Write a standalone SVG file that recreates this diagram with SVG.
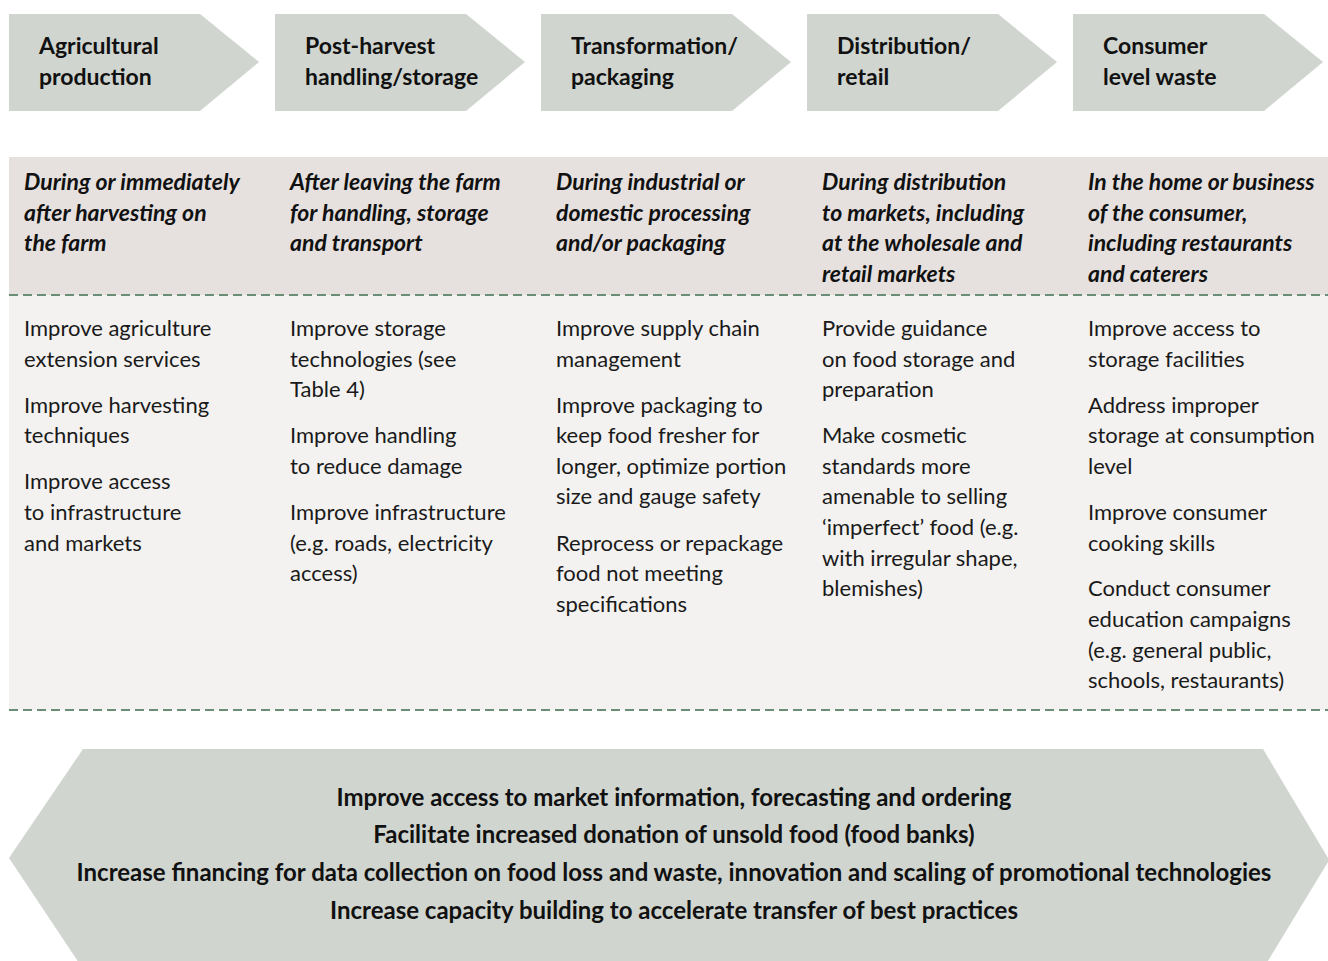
<svg xmlns="http://www.w3.org/2000/svg" width="1328" height="961" viewBox="0 0 1328 961">
<style>
.arrow{fill:#d0d5cf}
.hd{font-family:Lato,"Open Sans",sans-serif;font-weight:bold;font-size:23px;fill:#111}
.it{font-family:Lato,"Open Sans",sans-serif;font-weight:bold;font-style:italic;font-size:23px;fill:#111}
.bd{font-family:Lato,"Open Sans",sans-serif;font-size:22px;fill:#1a1a1a}
.bt{font-family:Lato,"Open Sans",sans-serif;font-weight:bold;font-size:24px;fill:#111;text-anchor:middle}
.dash{stroke:#6a8e75;stroke-width:2;stroke-dasharray:9 5;fill:none}
</style>
<rect x="0" y="0" width="1328" height="961" fill="#fff"/>
<g id="stage-1"><polygon class="arrow" points="9,14 200,14 259,62 200,111 9,111"/><text class="hd" x="39" y="54">Agricultural</text><text class="hd" x="39" y="85">production</text></g>
<g id="stage-2"><polygon class="arrow" points="275,14 466,14 525,62 466,111 275,111"/><text class="hd" x="305" y="54">Post-harvest</text><text class="hd" x="305" y="85">handling/storage</text></g>
<g id="stage-3"><polygon class="arrow" points="541,14 732,14 791,62 732,111 541,111"/><text class="hd" x="571" y="54">Transformation/</text><text class="hd" x="571" y="85">packaging</text></g>
<g id="stage-4"><polygon class="arrow" points="807,14 998,14 1057,62 998,111 807,111"/><text class="hd" x="837" y="54">Distribution/</text><text class="hd" x="837" y="85">retail</text></g>
<g id="stage-5"><polygon class="arrow" points="1073,14 1264,14 1323,62 1264,111 1073,111"/><text class="hd" x="1103" y="54">Consumer</text><text class="hd" x="1103" y="85">level waste</text></g>
<g id="bands">
<rect x="9" y="157" width="1319" height="138" fill="#e6e1df"/>
<rect x="9" y="295" width="1319" height="415" fill="#f3f2f0"/>
</g>
<g id="connectors">
<line class="dash" x1="9" y1="295" x2="1328" y2="295"/>
<line class="dash" x1="9" y1="710" x2="1328" y2="710"/>
</g>
<g id="col-1">
<text class="it"><tspan x="24" y="190">During or immediately</tspan><tspan x="24" y="221">after harvesting on</tspan><tspan x="24" y="251">the farm</tspan></text>
<text class="bd"><tspan x="24" y="336">Improve agriculture</tspan><tspan x="24" y="367">extension services</tspan><tspan x="24" y="413">Improve harvesting</tspan><tspan x="24" y="443">techniques</tspan><tspan x="24" y="489">Improve access</tspan><tspan x="24" y="520">to infrastructure</tspan><tspan x="24" y="551">and markets</tspan></text>
</g>
<g id="col-2">
<text class="it"><tspan x="290" y="190">After leaving the farm</tspan><tspan x="290" y="221">for handling, storage</tspan><tspan x="290" y="251">and transport</tspan></text>
<text class="bd"><tspan x="290" y="336">Improve storage</tspan><tspan x="290" y="367">technologies (see</tspan><tspan x="290" y="397">Table 4)</tspan><tspan x="290" y="443">Improve handling</tspan><tspan x="290" y="474">to reduce damage</tspan><tspan x="290" y="520">Improve infrastructure</tspan><tspan x="290" y="551">(e.g. roads, electricity</tspan><tspan x="290" y="581">access)</tspan></text>
</g>
<g id="col-3">
<text class="it"><tspan x="556" y="190">During industrial or</tspan><tspan x="556" y="221">domestic processing</tspan><tspan x="556" y="251">and/or packaging</tspan></text>
<text class="bd"><tspan x="556" y="336">Improve supply chain</tspan><tspan x="556" y="367">management</tspan><tspan x="556" y="413">Improve packaging to</tspan><tspan x="556" y="443">keep food fresher for</tspan><tspan x="556" y="474">longer, optimize portion</tspan><tspan x="556" y="504">size and gauge safety</tspan><tspan x="556" y="551">Reprocess or repackage</tspan><tspan x="556" y="581">food not meeting</tspan><tspan x="556" y="612">specifications</tspan></text>
</g>
<g id="col-4">
<text class="it"><tspan x="822" y="190">During distribution</tspan><tspan x="822" y="221">to markets, including</tspan><tspan x="822" y="251">at the wholesale and</tspan><tspan x="822" y="282">retail markets</tspan></text>
<text class="bd"><tspan x="822" y="336">Provide guidance</tspan><tspan x="822" y="367">on food storage and</tspan><tspan x="822" y="397">preparation</tspan><tspan x="822" y="443">Make cosmetic</tspan><tspan x="822" y="474">standards more</tspan><tspan x="822" y="504">amenable to selling</tspan><tspan x="822" y="535">‘imperfect’ food (e.g.</tspan><tspan x="822" y="566">with irregular shape,</tspan><tspan x="822" y="596">blemishes)</tspan></text>
</g>
<g id="col-5">
<text class="it"><tspan x="1088" y="190">In the home or business</tspan><tspan x="1088" y="221">of the consumer,</tspan><tspan x="1088" y="251">including restaurants</tspan><tspan x="1088" y="282">and caterers</tspan></text>
<text class="bd"><tspan x="1088" y="336">Improve access to</tspan><tspan x="1088" y="367">storage facilities</tspan><tspan x="1088" y="413">Address improper</tspan><tspan x="1088" y="443">storage at consumption</tspan><tspan x="1088" y="474">level</tspan><tspan x="1088" y="520">Improve consumer</tspan><tspan x="1088" y="551">cooking skills</tspan><tspan x="1088" y="596">Conduct consumer</tspan><tspan x="1088" y="627">education campaigns</tspan><tspan x="1088" y="658">(e.g. general public,</tspan><tspan x="1088" y="688">schools, restaurants)</tspan></text>
</g>
<g id="cross-cutting">
<polygon class="arrow" points="83,749 1263,749 1328,858 1328,862 1263,969 83,969 9,858"/>
<text class="bt"><tspan x="674" y="806">Improve access to market information, forecasting and ordering</tspan><tspan x="674" y="843">Facilitate increased donation of unsold food (food banks)</tspan><tspan x="674" y="881">Increase financing for data collection on food loss and waste, innovation and scaling of promotional technologies</tspan><tspan x="674" y="919">Increase capacity building to accelerate transfer of best practices</tspan></text>
</g>
</svg>
